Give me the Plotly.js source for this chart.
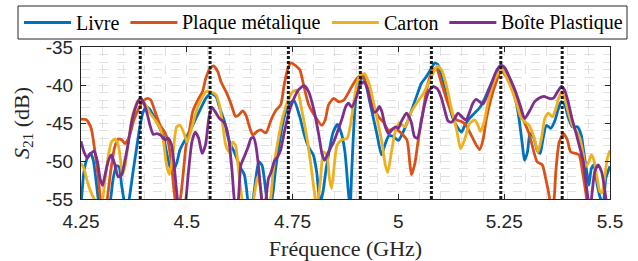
<!DOCTYPE html>
<html>
<head>
<meta charset="utf-8">
<script src="https://cdn.plot.ly/plotly-3.0.1.min.js"></script>
<style>html,body{margin:0;padding:0;background:#fff;}#chart{width:638px;height:261px;}</style>
</head>
<body>
<div id="chart"></div>
<script>
// ---- Data (frequency in GHz, S21 in dB) ----
const seriesNames = ['Livre', 'Plaque métalique', 'Carton', 'Boîte Plastique'];
const seriesColors = ['#0072BD', '#D95319', '#EDB120', '#7E2F8E'];

const freqLivre = [4.25,4.257,4.265,4.273,4.279,4.285,4.291,4.3,4.312,4.32,4.326,4.334,4.34,4.346,4.352,4.358,4.364,4.372,4.38,4.388,4.396,4.404,4.411,4.421,4.433,4.445,4.452,4.46,4.468,4.476,4.484,4.498,4.508,4.514,4.531,4.545,4.557,4.569,4.577,4.589,4.596,4.604,4.612,4.62,4.628,4.636,4.641,4.646,4.654,4.663,4.67,4.678,4.683,4.689,4.696,4.704,4.71,4.718,4.726,4.734,4.746,4.753,4.767,4.779,4.788,4.799,4.807,4.815,4.822,4.83,4.846,4.856,4.866,4.874,4.882,4.886,4.89,4.9,4.913,4.918,4.933,4.949,4.96,4.968,4.977,4.989,5.0,5.011,5.023,5.034,5.046,5.054,5.066,5.078,5.086,5.093,5.105,5.117,5.129,5.141,5.149,5.157,5.168,5.18,5.192,5.204,5.216,5.227,5.239,5.247,5.25,5.265,5.277,5.285,5.293,5.298,5.305,5.311,5.319,5.328,5.335,5.342,5.35,5.36,5.369,5.377,5.385,5.393,5.401,5.411,5.423,5.432,5.438,5.445,5.45,5.456,5.462,5.47,5.478,5.484,5.49,5.5];
const dbLivre = [-56,-51.4,-49.6,-49.0,-49.9,-52.3,-55.1,-58,-57,-55,-52.3,-50.6,-50.8,-53.2,-55.3,-57,-55,-51.8,-48.8,-45.9,-43.7,-42.9,-43.1,-44.0,-45.3,-46.8,-48.8,-50.7,-51.2,-50.3,-48.5,-47.0,-45.9,-45.3,-43.3,-41.75,-41.1,-41.5,-42.9,-44.8,-46.6,-47.9,-48.8,-49.9,-51.0,-51.8,-53.6,-55.5,-55.5,-52.3,-50.1,-50.6,-52.3,-55,-56.5,-54.0,-51.0,-47.9,-45.3,-43.5,-42.3,-42.0,-44.2,-46.8,-48.2,-49.2,-51.5,-55.5,-54,-50.75,-46.2,-45.2,-46.5,-49.0,-54.2,-56,-51,-41.5,-39.1,-38.9,-42.4,-46.4,-49.2,-47.9,-46.7,-46.8,-47.3,-46.2,-44.6,-42.9,-41.0,-39.8,-38.9,-37.8,-37.1,-37.3,-39.6,-42.2,-44.4,-45.7,-46.2,-45.3,-44.4,-43.7,-43.0,-41.75,-40.2,-38.9,-38.0,-37.9,-38.2,-40.0,-42.0,-44.4,-47.9,-49.9,-48.8,-46.4,-46.8,-48.6,-49.0,-47.0,-45.3,-45.7,-44.8,-43.3,-42.2,-42.6,-44.2,-45.5,-45.5,-46.6,-48.8,-51.4,-53.2,-51.0,-50.5,-53.2,-55,-55.5,-52.3,-50.7];

const freqPlaque = [4.25,4.263,4.274,4.283,4.291,4.297,4.304,4.312,4.32,4.329,4.338,4.346,4.354,4.364,4.375,4.388,4.397,4.408,4.415,4.425,4.437,4.448,4.456,4.464,4.47,4.478,4.486,4.492,4.498,4.506,4.514,4.526,4.537,4.545,4.555,4.563,4.573,4.581,4.593,4.604,4.615,4.622,4.632,4.64,4.648,4.656,4.666,4.675,4.687,4.699,4.711,4.722,4.73,4.738,4.746,4.758,4.767,4.776,4.788,4.804,4.819,4.827,4.835,4.847,4.859,4.871,4.883,4.894,4.906,4.914,4.923,4.934,4.942,4.953,4.965,4.977,4.989,5.0,5.02,5.027,5.031,5.039,5.047,5.058,5.07,5.082,5.09,5.101,5.113,5.125,5.137,5.149,5.16,5.172,5.184,5.192,5.2,5.208,5.219,5.231,5.243,5.25,5.265,5.281,5.297,5.309,5.32,5.328,5.34,5.348,5.356,5.362,5.368,5.372,5.38,5.39,5.399,5.407,5.419,5.427,5.435,5.443,5.45,5.47,5.5];
const dbPlaque = [-44.5,-44.6,-45.7,-48.8,-52.3,-55.5,-57,-55,-51.4,-48.3,-47.1,-47.2,-47.7,-46.8,-44.6,-42.9,-42.1,-41.75,-42.0,-43.5,-45.3,-46.2,-47.5,-50.5,-54,-57,-54.5,-51.4,-48.1,-46.1,-43.5,-42.0,-40.9,-39.1,-37.8,-37.5,-38.2,-39.6,-40.9,-42.4,-44.1,-44.0,-43.4,-44.0,-45.5,-46.6,-46.1,-45.9,-46.3,-44.6,-43.3,-42.6,-40.0,-38.0,-37.1,-37.5,-38.0,-40.0,-42.6,-44.2,-45.3,-44.6,-42.6,-41.75,-42.2,-42.0,-40.9,-39.8,-38.9,-38.7,-39.8,-41.5,-43.0,-44.2,-44.9,-46.0,-45.7,-46.0,-47.2,-50.3,-51.8,-50.3,-47.2,-43.5,-39.8,-38.0,-37.8,-39.6,-41.75,-43.5,-44.6,-44.8,-45.3,-46.6,-47.9,-48.5,-47.2,-44.4,-41.75,-39.6,-38.0,-38.5,-40.0,-42.2,-44.8,-46.4,-48.8,-50.1,-50.5,-52.3,-54.5,-57,-55,-51.4,-47.5,-46.4,-47.2,-48.8,-49.0,-49.2,-51.4,-54.2,-57,-58,-56];

const freqCarton = [4.25,4.257,4.265,4.275,4.283,4.292,4.3,4.307,4.315,4.322,4.33,4.338,4.344,4.348,4.354,4.362,4.37,4.378,4.385,4.393,4.401,4.413,4.425,4.437,4.445,4.452,4.459,4.467,4.476,4.484,4.493,4.501,4.51,4.525,4.545,4.557,4.569,4.577,4.585,4.592,4.6,4.608,4.615,4.622,4.628,4.636,4.648,4.658,4.667,4.673,4.679,4.69,4.698,4.704,4.715,4.726,4.738,4.75,4.761,4.772,4.784,4.792,4.8,4.808,4.816,4.823,4.831,4.837,4.842,4.847,4.855,4.867,4.879,4.886,4.894,4.902,4.91,4.92,4.926,4.934,4.944,4.953,4.961,4.969,4.975,4.983,4.993,5.002,5.016,5.027,5.043,5.059,5.075,5.086,5.092,5.102,5.114,5.126,5.138,5.147,5.157,5.168,5.18,5.188,5.194,5.202,5.212,5.223,5.235,5.245,5.255,5.265,5.277,5.289,5.298,5.309,5.32,5.33,5.338,5.346,5.354,5.364,5.372,5.38,5.387,5.395,5.403,5.411,5.421,5.429,5.437,5.442,5.45,5.456,5.462,5.47,5.476,5.481,5.487,5.494,5.5];
const dbCarton = [-50.3,-51.0,-52.7,-54.3,-55.2,-57,-55.5,-52.3,-49.2,-47.5,-47.1,-47.9,-50.1,-51.8,-50.7,-47.5,-44.4,-42.9,-42.1,-42.0,-42.4,-43.7,-44.6,-45.7,-47.5,-50.5,-51.8,-49.2,-45.5,-45.3,-46.3,-47.5,-46.0,-43.0,-40.9,-40.9,-41.3,-42.6,-45.3,-47.9,-48.8,-47.5,-47.9,-51.0,-54,-56.5,-57,-55,-52.1,-53.2,-55.5,-57,-55,-51.4,-47.5,-44.4,-42.2,-40.9,-40.7,-43.4,-47.0,-50.0,-53.5,-56,-52.3,-48.8,-49.2,-52.3,-53.6,-51.4,-47.9,-47.2,-47.0,-45.5,-42.5,-39.8,-38.7,-38.5,-39.1,-40.5,-43.0,-45.3,-47.5,-50.5,-51.5,-49.0,-46.0,-45.0,-45.5,-43.9,-42.4,-41.1,-39.3,-38.0,-37.5,-38.0,-40.2,-43.3,-46.0,-48.4,-47.1,-45.1,-44.6,-45.3,-46.1,-45.0,-42.2,-40.0,-38.5,-37.9,-38.9,-40.2,-42.0,-44.2,-44.8,-45.3,-46.8,-48.8,-47.0,-44.4,-43.7,-44.2,-43.1,-41.5,-40.9,-42.2,-43.9,-45.3,-46.1,-47.0,-49.2,-50.7,-50.1,-49.2,-49.9,-52.3,-54.0,-54.2,-52.3,-49.6,-48.6];

const freqBoite = [4.25,4.257,4.265,4.273,4.281,4.289,4.295,4.301,4.307,4.315,4.322,4.33,4.338,4.346,4.354,4.362,4.37,4.378,4.386,4.391,4.397,4.405,4.413,4.421,4.429,4.438,4.448,4.456,4.464,4.47,4.476,4.484,4.492,4.498,4.504,4.512,4.52,4.528,4.536,4.544,4.552,4.559,4.567,4.577,4.586,4.594,4.6,4.607,4.612,4.617,4.622,4.628,4.636,4.644,4.652,4.658,4.663,4.67,4.675,4.681,4.687,4.693,4.699,4.707,4.715,4.722,4.73,4.742,4.75,4.763,4.777,4.788,4.8,4.812,4.82,4.826,4.835,4.847,4.859,4.867,4.875,4.882,4.89,4.9,4.91,4.918,4.926,4.934,4.942,4.949,4.955,4.961,4.969,4.977,4.985,4.993,5.0,5.007,5.019,5.03,5.038,5.045,5.054,5.062,5.071,5.082,5.092,5.101,5.109,5.117,5.125,5.133,5.141,5.15,5.16,5.168,5.176,5.184,5.192,5.2,5.21,5.22,5.231,5.242,5.251,5.265,5.277,5.289,5.298,5.305,5.313,5.322,5.332,5.344,5.356,5.366,5.376,5.385,5.393,5.401,5.411,5.421,5.429,5.437,5.443,5.448,5.453,5.458,5.464,5.472,5.48,5.486,5.492,5.5];
const dbBoite = [-47.4,-48.8,-49.6,-49.0,-48.7,-50.1,-52.3,-53.2,-51.8,-49.9,-49.2,-50.5,-52.1,-51.8,-49.9,-47.5,-44.8,-43.1,-42.0,-41.75,-42.2,-43.5,-45.3,-46.5,-46.4,-46.6,-47.2,-47.0,-47.9,-50.5,-54,-57,-57,-55,-51.4,-47.5,-46.2,-47.0,-49.0,-47.9,-44.4,-42.9,-43.5,-44.4,-44.8,-45.7,-47.5,-51.4,-55,-57,-55,-50.5,-49.4,-48.3,-47.0,-46.9,-47.9,-51.0,-54,-57,-55,-52.3,-51.5,-50.0,-49.4,-48.5,-46.3,-43.5,-42.2,-40.7,-40.1,-40.9,-43.2,-46.6,-49.2,-49.9,-48.8,-47.5,-45.7,-44.4,-42.9,-42.4,-42.9,-41.75,-40.0,-39.6,-40.4,-42.2,-43.6,-43.4,-42.8,-43.5,-45.5,-46.4,-45.9,-45.5,-45.7,-44.8,-43.7,-44.8,-46.8,-47.0,-44.8,-42.6,-40.9,-40.2,-40.5,-41.6,-43.2,-44.7,-44.9,-44.4,-43.7,-44.2,-44.6,-43.6,-42.4,-41.9,-42.2,-42.5,-41.3,-39.8,-38.2,-37.4,-37.7,-39.3,-40.9,-42.9,-44.4,-43.9,-43.1,-42.2,-41.75,-41.5,-41.75,-41.75,-40.9,-40.2,-40.7,-42.2,-44.6,-46.6,-48.3,-50.1,-52.7,-55,-56.5,-54,-51.4,-50.5,-51.4,-53.2,-55.5,-57];

// Resonance markers (GHz)
const resonances = [4.39, 4.555, 4.74, 4.91, 5.078, 5.242, 5.387];

// Axis ticks
const xTickVals = [4.25, 4.5, 4.75, 5, 5.25, 5.5];
const xTickText = ['4.25', '4.5', '4.75', '5', '5.25', '5.5'];
const yTickVals = [-55, -50, -45, -40, -35];
const yTickText = ['-55', '-50', '-45', '-40', '-35'];

// ---- Layout constants (pixels) ----
const W = 638, H = 261;
const M = {l: 81, r: 28, t: 47, b: 62};
const plotW = W - M.l - M.r, plotH = H - M.t - M.b;
const px2x = p => (p - M.l) / plotW;           // pixel -> paper x
const py2y = p => (H - M.b - p) / plotH;       // pixel -> paper y
const serif = 'Liberation Serif';
const legendFontSize = 20;

const freqs = [freqLivre, freqPlaque, freqCarton, freqBoite];
const dbs = [dbLivre, dbPlaque, dbCarton, dbBoite];

const traces = seriesNames.map((name, i) => ({
  x: freqs[i], y: dbs[i], name: name, type: 'scatter', mode: 'lines',
  line: {color: seriesColors[i], width: 2.8, shape: 'spline', smoothing: 0.6},
  hoverinfo: 'skip', showlegend: false
}));

resonances.forEach(f => traces.push({
  x: [f, f], y: [-55, -35], type: 'scatter', mode: 'lines', showlegend: false,
  line: {color: '#1a1a1a', width: 3, dash: '3px,2px'}, hoverinfo: 'skip'
}));

// ---- Legend (drawn as a boxed single row, MATLAB style) ----
const ctx = document.createElement('canvas').getContext('2d');
ctx.font = legendFontSize + 'px "' + serif + '"';
const textW = seriesNames.map(n => ctx.measureText(n).width);
const boxL = 18, boxR = 627, boxT = 6, boxB = 39;
const sampleLen = 47, sampleGap = 4, padL = 6, padR = 5;
const totalText = textW.reduce((a, b) => a + b, 0);
const entryGap = (boxR - padR - (boxL + padL) - seriesNames.length * (sampleLen + sampleGap) - totalText) / (seriesNames.length - 1);
const legY = (boxT + boxB) / 2;

const shapes = [{
  type: 'rect', xref: 'paper', yref: 'paper', x0: px2x(boxL), x1: px2x(boxR), y0: py2y(boxB), y1: py2y(boxT),
  line: {color: '#262626', width: 1}, fillcolor: '#ffffff', layer: 'above'
}];
const annotations = [];
let cx = boxL + padL;
seriesNames.forEach((name, i) => {
  shapes.push({type: 'line', xref: 'paper', yref: 'paper', x0: px2x(cx), x1: px2x(cx + sampleLen),
    y0: py2y(legY), y1: py2y(legY), line: {color: seriesColors[i], width: 2.8}, layer: 'above'});
  annotations.push({xref: 'paper', yref: 'paper', x: px2x(cx + sampleLen + sampleGap), y: py2y(legY),
    xanchor: 'left', yanchor: 'middle', showarrow: false, text: name, borderpad: 0,
    font: {family: serif, size: legendFontSize, color: '#000'}});
  cx += sampleLen + sampleGap + textW[i] + entryGap;
});

const gridCol = '#e0e0e0';
const axisCommon = {
  showline: true, linecolor: '#262626', linewidth: 1, mirror: 'ticks',
  ticks: 'inside', ticklen: 5, tickwidth: 1, tickcolor: '#262626',
  tickfont: {family: 'Liberation Sans, Arial, sans-serif', size: 19, color: '#262626'},
  showgrid: true, gridcolor: gridCol, griddash: 'dash', gridwidth: 1,
  zeroline: false
};

const layout = {
  width: W, height: H,
  margin: M,
  paper_bgcolor: '#ffffff', plot_bgcolor: '#ffffff',
  showlegend: false,
  shapes: shapes,
  annotations: annotations,
  xaxis: Object.assign({}, axisCommon, {
    range: [4.25, 5.5], tickmode: 'array', tickvals: xTickVals, ticktext: xTickText,
    ticklabelstandoff: 5,
    minor: {dtick: 0.05, tick0: 4.25, showgrid: true, gridcolor: gridCol, griddash: 'dash', gridwidth: 1, ticks: ''},
    title: {text: 'Fréquence (GHz)', standoff: 10,
      font: {family: serif, size: 22, color: '#262626'}}
  }),
  yaxis: Object.assign({}, axisCommon, {
    range: [-55, -35], tickmode: 'array', tickvals: yTickVals, ticktext: yTickText,
    ticklabelstandoff: 3,
    minor: {dtick: 1, tick0: -55, showgrid: true, gridcolor: gridCol, griddash: 'dash', gridwidth: 1, ticks: ''},
    title: {text: '<i>S</i><sub>21</sub> (dB)', standoff: 10,
      font: {family: serif, size: 22, color: '#262626'}}
  })
};

Plotly.newPlot('chart', traces, layout, {staticPlot: true, displayModeBar: false});
</script>
</body>
</html>
